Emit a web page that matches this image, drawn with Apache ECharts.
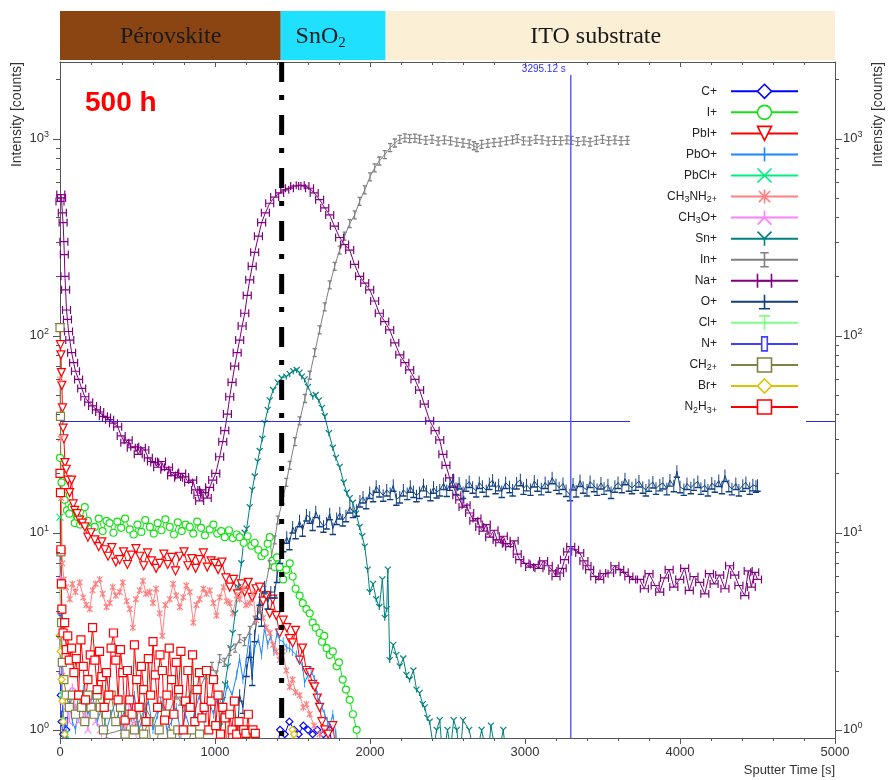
<!DOCTYPE html>
<html><head><meta charset="utf-8">
<script src="https://cdn.jsdelivr.net/npm/echarts@6/dist/echarts.min.js"></script>
<style>html,body{margin:0;padding:0;background:#fff}#c{width:889px;height:780px}</style>
</head><body><div id="c"></div>
<script>
// ---------------- data (time [s], intensity [counts]) ----------------
const C_PLUS = [[0,3],[5,1.5],[10,1.1],[20,0.95],[40,1.0],[60,0.6],[1380,0.6],[1420,1.0],[1450,0.95],[1480,1.1],[1510,1.0],[1540,0.95],[1570,1.05],[1600,1.0],[1630,0.95],[1660,1.0],[1700,0.95],[1740,1.0],[1780,0.6]];
const I_PLUS = [[0,24],[5,20],[10,18],[20,15.5],[30,14.7],[45,13],[60,12.5],[75,13.5],[95,11.2],[115,12],[130,11],[160,13.5],[180,11.5],[200,10.5],[224,10.7],[250,11.8],[275,10.2],[300,11.5],[320,11.2],[345,10.0],[370,11.4],[395,10.6],[420,11.8],[450,10.4],[475,9.8],[500,11.0],[525,10.1],[550,11.6],[580,10.7],[605,9.9],[630,11.2],[655,10.3],[680,11.7],[708,10.7],[735,9.8],[760,11.3],[785,10.2],[810,11.0],[837,10.7],[860,9.9],[885,11.4],[910,10.6],[935,9.7],[966,10.4],[990,11.0],[1015,9.9],[1040,10.2],[1063,9.5],[1090,10.3],[1115,9.4],[1140,9.8],[1159,9.5],[1185,8.9],[1210,9.6],[1235,8.6],[1256,8.9],[1280,8.2],[1300,7.6],[1320,7.9],[1340,8.8],[1353,9.5],[1370,7.2],[1385,6.7],[1400,7.5],[1417,6.7],[1440,5.8],[1460,6.5],[1482,7.0],[1501,6.0],[1520,5.2],[1546,4.8],[1566,4.4],[1590,4.1],[1611,3.9],[1630,3.5],[1650,3.3],[1675,3.1],[1690,2.8],[1705,3.0],[1720,2.6],[1740,2.4],[1760,2.5],[1785,2.1],[1800,2.2],[1824,1.8],[1845,1.6],[1869,1.42],[1890,1.2],[1914,1.0],[1930,0.6]];
const PBI_PLUS = [[0,110],[3,90],[6,80],[9,65],[12,56],[16,43],[20,34],[25,30],[32,22.7],[40,21],[50,18.5],[62,16],[75,18.5],[85,14],[95,13],[110,12.5],[127,11.6],[145,11.2],[160,10.7],[180,9.5],[200,10],[224,9.2],[250,8.5],[270,9.0],[289,8.2],[310,7.6],[335,8.4],[360,7.1],[385,7.3],[410,8.0],[435,6.9],[460,7.7],[490,8.3],[515,7.6],[540,6.8],[565,7.9],[590,7.2],[620,6.6],[644,7.0],[670,7.8],[695,6.9],[720,7.5],[745,6.4],[772,7.6],[800,8.0],[825,6.8],[850,7.4],[875,6.6],[901,7.3],[925,7.9],[950,6.7],[975,7.2],[998,7.0],[1020,6.5],[1045,7.1],[1070,5.9],[1095,5.3],[1120,5.8],[1145,4.9],[1170,5.5],[1191,5.0],[1215,5.6],[1240,4.7],[1265,5.2],[1288,5.3],[1310,4.5],[1330,4.8],[1353,3.9],[1372,4.6],[1395,3.8],[1417,3.1],[1440,3.6],[1463,3.3],[1480,2.9],[1501,2.76],[1520,3.2],[1546,2.26],[1565,2.6],[1590,2.0],[1611,1.95],[1630,1.7],[1643,1.65],[1660,1.45],[1675,1.3],[1690,1.1],[1708,1.0],[1730,0.95],[1760,1.05],[1790,0.7]];
const PBO_PLUS = [[0,8],[5,3],[10,1.6],[20,1.2],[40,1.0],[60,1.4],[80,1.1],[100,1.0],[120,1.3],[150,1.6],[180,1.2],[210,1.5],[240,1.1],[270,1.3],[300,1.0],[330,1.2],[360,1.4],[390,1.05],[420,1.3],[450,1.1],[480,1.5],[510,1.0],[540,1.2],[570,1.4],[600,1.0],[630,1.2],[660,1.35],[690,1.0],[720,1.1],[750,1.3],[780,0.95],[810,1.2],[840,1.0],[870,1.25],[900,1.5],[930,1.1],[960,1.4],[990,1.2],[1020,1.5],[1050,1.3],[1080,1.7],[1110,1.5],[1140,1.9],[1159,2.3],[1180,1.8],[1200,2.2],[1224,3.1],[1240,2.0],[1256,2.6],[1280,2.9],[1300,2.4],[1320,3.3],[1340,2.7],[1360,3.0],[1380,2.5],[1400,3.1],[1417,2.86],[1440,2.8],[1463,2.6],[1482,2.6],[1501,2.5],[1525,2.4],[1546,2.26],[1565,2.1],[1578,1.73],[1600,1.9],[1620,2.0],[1643,1.8],[1660,1.5],[1675,1.42],[1690,1.3],[1708,1.2],[1725,1.1],[1740,1.05],[1760,1.2],[1780,0.95],[1800,0.6]];
const PBCL_PLUS = [[0,12],[5,4],[10,2.2],[15,1.5],[25,1.1],[35,0.95],[45,0.7]];
const CH3NH2_PLUS = [[0,60],[4,30],[8,15],[15,7],[25,5.8],[40,5.3],[63,4.6],[80,5.5],[100,5.0],[127,5.6],[150,4.7],[170,4.3],[192,4.1],[210,5.1],[230,5.5],[256,5.8],[275,4.9],[300,4.2],[321,4.4],[340,5.3],[360,4.8],[385,5.0],[405,5.6],[430,4.5],[450,4.1],[470,3.3],[490,4.6],[514,5.1],[535,5.7],[555,4.9],[579,5.0],[600,4.4],[620,5.2],[643,3.9],[660,3.0],[680,4.3],[708,4.6],[730,5.5],[750,4.8],[773,4.2],[795,4.7],[815,5.4],[837,5.0],[860,3.5],[880,4.3],[901,4.6],[925,5.2],[945,4.9],[966,5.1],[990,4.4],[1010,3.8],[1030,4.7],[1055,5.3],[1075,4.5],[1095,4.4],[1115,3.9],[1140,4.8],[1159,4.6],[1180,5.2],[1200,4.3],[1224,4.4],[1245,4.9],[1265,3.6],[1288,4.1],[1310,3.7],[1330,3.3],[1353,3.1],[1375,2.7],[1395,2.5],[1417,2.26],[1437,2.5],[1460,2.0],[1482,1.65],[1500,1.8],[1520,1.55],[1546,1.5],[1570,1.3],[1590,1.35],[1611,1.2],[1640,1.05],[1675,0.95],[1700,0.6]];
const CH3O_PLUS = [[0,6],[5,3],[10,2],[20,1.4],[40,1.3],[60,1.1],[80,1.65],[100,1.3],[120,1.1],[140,1.5],[160,1.2],[180,1.0],[200,1.4],[230,1.1],[260,1.0],[300,0.7],[420,1.0],[450,1.4],[480,1.1],[510,0.7]];
const SN_PLUS = [[1030,1.04],[1050,1.42],[1065,1.7],[1082,2.1],[1100,2.6],[1114,3.1],[1130,3.9],[1149,5.3],[1170,7.0],[1191,10],[1204,10.5],[1224,13.5],[1240,16.5],[1256,19.3],[1275,23],[1288,26],[1305,30],[1320,36],[1340,42],[1353,47],[1375,53],[1405,58],[1430,61],[1460,62],[1482,64],[1505,66],[1527,67],[1545,65],[1560,62],[1578,60],[1600,55],[1631,49],[1650,50],[1670,47],[1690,43],[1708,39],[1735,32],[1760,27],[1780,24],[1804,21.6],[1830,18],[1850,16],[1869,15],[1889,14.2],[1910,12.5],[1933,10.7],[1950,9.6],[1966,8.5],[1985,6.5],[1998,5],[2020,5.5],[2040,4.6],[2060,4.2],[2080,5.8],[2095,3.7],[2108,4.1],[2115,6.5],[2127,2.26],[2150,2.7],[2170,2.4],[2192,2.1],[2215,2.3],[2235,1.9],[2256,1.8],[2280,2.0],[2300,1.6],[2320,1.54],[2340,1.35],[2353,1.3],[2370,1.15],[2385,1.1],[2410,0.8],[2430,1.0],[2450,1.12],[2470,0.7],[2500,1.0],[2520,0.8],[2540,1.12],[2560,1.0],[2580,0.7],[2600,1.12],[2640,1.0],[2680,0.7],[2720,1.0],[2760,0.7],[2780,1.05],[2820,0.7],[2860,1.0],[2880,0.7]];
const IN_PLUS = [[300,0.95],[400,1.0],[450,1.2],[500,1.05],[550,1.3],[600,1.1],[650,1.4],[700,1.2],[750,1.5],[775,1.4],[800,1.3],[850,1.6],[900,1.6],[940,1.9],[980,2.1],[1010,1.9],[1030,2.3],[1060,2.2],[1095,2.5],[1130,2.6],[1159,2.9],[1190,2.8],[1224,3.2],[1256,3.6],[1288,4.1],[1320,5.1],[1353,6.9],[1385,9.2],[1405,11.6],[1437,14.7],[1460,18],[1482,22],[1515,29],[1546,37],[1580,48],[1611,63],[1643,82],[1675,107],[1708,140],[1740,181],[1772,225],[1804,272],[1836,320],[1869,370],[1901,410],[1933,480],[1966,550],[2000,640],[2030,710],[2060,770],[2095,830],[2130,900],[2160,950],[2192,990],[2225,1010],[2256,1000],[2290,1005],[2320,995],[2360,980],[2400,990],[2440,970],[2480,985],[2520,975],[2560,960],[2600,950],[2640,940],[2670,920],[2690,900],[2720,935],[2760,945],[2800,955],[2840,960],[2880,975],[2920,985],[2950,1000],[2990,975],[3030,970],[3070,990],[3110,985],[3150,970],[3190,980],[3230,975],[3270,985],[3300,980],[3340,965],[3380,975],[3420,960],[3460,980],[3500,990],[3540,975],[3580,985],[3620,975],[3660,980],[3700,985],[3750,975],[3800,980],[3900,985],[4000,975],[4100,980],[4200,990],[4300,975],[4400,980],[4500,985]];
const NA_PLUS = [[0,480],[5,520],[10,500],[15,420],[20,375],[25,300],[28,258],[32,200],[36,171],[42,135],[48,121],[55,105],[63,95],[75,82],[88,73],[100,66],[120,60],[140,54],[160,49],[185,46],[210,44],[235,42],[256,41],[280,39],[300,38.5],[320,37.5],[345,36],[372,34.5],[395,31],[418,28.6],[440,29.5],[460,27],[482,27.3],[505,25],[525,27],[547,26.3],[570,24],[590,23],[611,22.7],[630,21.5],[655,23],[676,20.9],[700,21.5],[720,19.5],[740,20.2],[765,19],[785,20],[804,19.2],[830,18],[856,18.5],[875,16.5],[890,15.5],[901,14.5],[915,16.5],[933,16],[950,15],[965,17],[985,18.5],[1005,20],[1030,24.3],[1050,29],[1063,33],[1080,40],[1095,49],[1110,58],[1127,70],[1143,82],[1159,95],[1175,112],[1192,130],[1208,160],[1224,192],[1240,225],[1256,265],[1280,320],[1301,375],[1325,420],[1353,470],[1385,505],[1417,530],[1450,550],[1480,560],[1514,575],[1550,580],[1580,575],[1610,560],[1640,530],[1675,490],[1708,445],[1740,410],[1770,360],[1804,315],[1836,290],[1869,272],[1900,230],[1933,200],[1966,185],[1998,171],[2030,150],[2060,130],[2095,118],[2127,107],[2160,92],[2192,80],[2225,73],[2256,67],[2290,60],[2320,53],[2350,45],[2385,37],[2420,33],[2450,29.6],[2470,25],[2490,22],[2514,19],[2540,17],[2560,15.5],[2579,14.7],[2600,13.5],[2620,13.8],[2643,12.6],[2670,11.5],[2690,11.8],[2708,10.7],[2730,10.2],[2750,11],[2772,9.5],[2800,10.3],[2820,9.2],[2837,8.9],[2860,9.6],[2880,8.8],[2901,8.5],[2930,9.1],[2950,7.8],[2966,7.3],[3000,7.0],[3030,6.7],[3060,6.9],[3090,6.6],[3120,7.2],[3150,6.8],[3180,6.4],[3200,6.0],[3223,6.25],[3240,6.6],[3255,7.3],[3275,8.0],[3295,8.5],[3320,8.2],[3353,7.9],[3380,7.2],[3400,6.8],[3417,6.5],[3450,6.0],[3482,5.8],[3510,6.2],[3546,6.25],[3580,6.8],[3611,6.5],[3640,6.3],[3670,6.0],[3700,5.8],[3740,5.8],[3770,5.2],[3800,6.2],[3840,5.4],[3869,5.0],[3900,5.9],[3930,6.5],[3960,5.3],[3998,5.8],[4030,6.6],[4060,5.1],[4090,6.0],[4127,5.6],[4160,4.9],[4190,6.2],[4220,5.5],[4256,6.1],[4290,5.2],[4320,6.8],[4353,6.1],[4380,5.4],[4418,4.8],[4440,6.4],[4460,5.3],[4482,6.3],[4500,5.8]];
const O_PLUS = [[1140,0.8],[1159,1.5],[1180,1.3],[1204,2.0],[1224,2.5],[1240,1.8],[1256,3.0],[1275,3.9],[1288,4.6],[1300,3.6],[1320,5.3],[1340,4.4],[1360,5.0],[1385,5.0],[1400,6.0],[1420,7.5],[1440,8.6],[1463,9.5],[1480,8.8],[1501,10.7],[1520,10.0],[1545,11.5],[1565,10.3],[1590,12.3],[1611,12],[1630,11],[1650,12.8],[1675,11.5],[1700,10.8],[1720,11.2],[1740,12.5],[1760,10.5],[1785,11.8],[1805,12.6],[1824,11.6],[1845,12.2],[1870,13.5],[1890,12.8],[1914,13],[1935,14.5],[1955,15.2],[1975,14.2],[1998,16],[2020,15.4],[2040,17.2],[2060,16.3],[2085,15.5],[2108,16.5],[2130,15.8],[2150,17.4],[2170,14.8],[2192,15.2],[2215,16.5],[2240,15.8],[2260,17.2],[2280,16.2],[2300,15.4],[2320,16],[2345,17.5],[2365,16.3],[2390,15.6],[2410,17.0],[2430,16.1],[2450,16.5],[2475,17.8],[2495,16.4],[2515,17.6],[2533,18.5],[2555,16.8],[2575,17.9],[2600,16.0],[2620,17.4],[2640,18.2],[2662,17],[2685,16.3],[2705,18.0],[2725,17.2],[2750,16.4],[2770,17.8],[2791,18.5],[2810,16.9],[2830,17.5],[2850,16.2],[2875,18.0],[2900,17.1],[2920,16.5],[2946,17.9],[2970,18.6],[2990,16.8],[3010,17.5],[3035,16.6],[3060,18.3],[3080,17.4],[3105,16.7],[3130,18.0],[3150,17.2],[3175,19.0],[3200,17.6],[3220,16.9],[3245,17.8],[3265,16.4],[3290,15.6],[3310,17.7],[3330,16.3],[3355,18.4],[3375,17.0],[3400,16.5],[3420,18.2],[3445,17.3],[3465,16.6],[3490,17.9],[3510,16.8],[3535,17.5],[3555,16.0],[3580,17.2],[3600,18.0],[3625,17.1],[3645,18.8],[3670,17.4],[3690,16.9],[3715,17.6],[3735,18.3],[3760,17.0],[3780,16.5],[3800,17.4],[3825,18.1],[3845,16.8],[3870,17.5],[3890,17.9],[3915,16.7],[3935,18.5],[3960,17.3],[3980,20.5],[4000,17.1],[4025,16.6],[4045,17.8],[4070,16.9],[4090,17.6],[4115,18.2],[4135,16.8],[4160,17.4],[4180,16.5],[4205,17.9],[4225,17.2],[4250,18.4],[4270,16.9],[4290,19.5],[4315,17.3],[4335,16.7],[4360,17.8],[4380,16.5],[4405,17.4],[4425,18.0],[4450,16.8],[4470,17.5],[4490,17.2],[4500,17.4]];
const CL_PLUS = [[0,5],[5,2.5],[10,1.5],[20,1.1],[30,0.8]];
const N_PLUS = [[0,4],[5,2],[10,1.3],[20,1.05],[30,0.95],[40,1.1],[50,0.7]];
const CH2_PLUS = [[0,110],[3,39],[6,8],[10,3.5],[15,2.2],[25,1.8],[40,1.5],[60,1.3],[80,1.5],[100,1.2],[120,1.5],[140,1.3],[160,1.1],[180,1.5],[200,1.3],[220,1.2],[240,1.5],[260,1.3],[280,1.0],[300,1.2],[330,1.5],[360,1.1],[390,1.3],[420,0.95],[450,1.2],[480,1.0],[510,1.3],[540,0.95],[570,1.1],[600,0.7],[640,1.0],[680,1.2],[720,0.95],[760,1.0],[800,0.7],[850,1.0],[900,0.95],[950,0.6]];
const BR_PLUS = [[0,3],[5,2.5],[10,1.8],[15,1.4],[20,1.1],[30,0.95],[40,0.6],[1220,0.6],[1230,1.0],[1240,0.6],[1490,0.6],[1500,1.0],[1510,0.95],[1520,0.6]];
const N2H3_PLUS = [[0,20],[3,16],[6,8.2],[9,5.5],[12,4.1],[20,3.1],[30,3.5],[40,2.55],[50,3.0],[60,2.26],[75,2.6],[90,1.95],[105,2.3],[120,1.5],[135,2.86],[150,2.1],[165,1.42],[180,1.8],[195,2.4],[210,3.3],[225,2.26],[240,1.6],[255,2.5],[270,1.86],[285,1.3],[300,1.95],[315,1.5],[330,2.6],[345,3.1],[360,2.26],[375,1.42],[390,2.55],[405,1.95],[420,1.12],[435,2.0],[450,1.42],[465,1.2],[480,2.7],[495,1.8],[510,1.3],[525,2.1],[540,1.6],[555,1.1],[570,2.3],[585,1.5],[600,2.8],[615,1.9],[630,1.3],[645,2.4],[660,2.0],[675,1.12],[690,1.5],[705,2.6],[720,1.8],[735,1.2],[750,2.2],[765,1.6],[780,2.5],[795,1.0],[810,1.4],[825,2.0],[840,1.3],[855,2.4],[870,1.1],[885,1.6],[900,1.95],[915,1.15],[930,1.3],[945,2.0],[960,1.0],[975,1.4],[990,1.8],[1005,1.05],[1020,1.5],[1035,0.95],[1050,1.3],[1065,1.15],[1080,0.7],[1095,1.2],[1110,1.0],[1125,1.4],[1140,0.95],[1155,1.1],[1170,0.7],[1185,1.0],[1200,0.96],[1215,1.2],[1230,0.7],[1245,1.0],[1260,0.96],[1275,0.6]];

const SERIES_NAMES = ['C+','I+','PbI+','PbO+','PbCl+','CH3NH2+','CH3O+','Sn+','In+','Na+','O+','Cl+','N+','CH2+','Br+','N2H3+'];
const SERIES_DATA = [C_PLUS,I_PLUS,PBI_PLUS,PBO_PLUS,PBCL_PLUS,CH3NH2_PLUS,CH3O_PLUS,SN_PLUS,IN_PLUS,NA_PLUS,O_PLUS,CL_PLUS,N_PLUS,CH2_PLUS,BR_PLUS,N2H3_PLUS];

const X_TICKS = [0,1000,2000,3000,4000,5000];
const LAYER_NAMES = ['Pérovskite','SnO2','ITO substrate'];
const LAYER_BOUNDS = [0,1424,2101,5000];
const LAYER_LABEL_T = [714,1682,3456];
const INTERFACE_T = 1430;
const CURSOR_T = 3295.12;
const REF_LEVEL = 36.8;

// ---------------- styles ----------------
const Y_MIN = 0.909, Y_MAX = 2448;
const FONT = 'Liberation Sans';
const SYM = {
  diamond: 'path://M5 0 L10 5 L5 10 L0 5 Z',
  tri: 'path://M0 0 L10 0 L5 10 Z',
  bar: 'path://M0 0 M10 10 M5 0 L5 10',
  x: 'path://M0 0 L10 10 M10 0 L0 10',
  star: 'path://M1 1 L9 9 M9 1 L1 9 M5 0 L5 10 M0 0 M10 10',
  invY: 'path://M5 0 L5 5 L0 10 M5 5 L10 10',
  y: 'path://M0 0 L5 5 L10 0 M5 5 L5 10',
  ibeam: 'path://M2 0 L8 0 M5 0 L5 10 M2 10 L8 10 M0 0 M10 10',
  hh: 'path://M0 0 L0 10 M10 0 L10 10 M0 5 L10 5',
  tup: 'path://M5 0 L5 10 M1 10 L9 10 M0 0 M10 10',
  tee: 'path://M1 0 L9 0 M5 0 L5 10 M0 0 M10 10',
  slim: 'path://M3 0 L7 0 L7 10 L3 10 Z M0 0 M10 10',
  sq: 'path://M0 0 L10 0 L10 10 L0 10 Z'
};
const STYLES = [
  {c:'#0000ff', s:SYM.diamond, z:7, f:'#fff'},
  {c:'#14e014', s:'circle', z:7, f:'#fff'},
  {c:'#ff0000', s:SYM.tri, z:8, f:'#fff'},
  {c:'#1a86ff', s:SYM.bar, z:[4,9], f:'none'},
  {c:'#00f080', s:SYM.x, z:7, f:'none'},
  {c:'#ff8080', s:SYM.star, z:7, f:'none'},
  {c:'#ff80ff', s:SYM.invY, z:7, f:'none'},
  {c:'#008080', s:SYM.y, z:6, f:'none'},
  {c:'#808080', s:SYM.ibeam, z:[7,8], f:'none'},
  {c:'#800080', s:SYM.hh, z:[8,8], f:'none'},
  {c:'#103f80', s:SYM.tup, z:[8,12], f:'none'},
  {c:'#80ff80', s:SYM.tee, z:7, f:'none'},
  {c:'#4040ff', s:SYM.slim, z:[5,8], f:'#fff'},
  {c:'#808040', s:SYM.sq, z:8, f:'#fff'},
  {c:'#e0c000', s:SYM.diamond, z:7, f:'#fff'},
  {c:'#ff0000', s:SYM.sq, z:8, f:'#fff'}
];
const LAYER_COLORS = ['#8b4513','#1fe0ff','#fbefd5'];
const LAYER_RICH = ['{a|Pérovskite}','{a|SnO}{b|2}','{a|ITO substrate}'];

function isPow10(v){ const e = Math.log10(v); return Math.abs(e - Math.round(e)) < 1e-6; }
function powLabel(v){ if (!isPow10(v)) return ''; return '{b|10}{s|' + Math.round(Math.log10(v)) + '}'; }
const POW_RICH = {
  b: {fontSize: 13, fontFamily: FONT, color: '#333', lineHeight: 17},
  s: {fontSize: 9, fontFamily: FONT, color: '#333', lineHeight: 10, verticalAlign: 'top'}
};
function legendFmt(name){
  let out = '';
  for (let i = 0; i < name.length; i++) {
    const ch = name[i];
    const prevDigit = i > 0 && /[0-9]/.test(name[i-1]);
    if (/[0-9]/.test(ch) || (ch === '+' && prevDigit)) out += '{s|' + ch + '}';
    else out += '{n|' + ch + '}';
  }
  return out;
}

function renderOverlay(params, api){
  const cs = params.coordSys;
  const L = cs.x, T = cs.y, R = cs.x + cs.width, B = cs.y + cs.height;
  const px = t => api.coord([t, 1])[0];
  const py = v => api.coord([0, v])[1];
  const ch = [];
  for (let i = 0; i < LAYER_NAMES.length; i++) {
    const x0 = px(LAYER_BOUNDS[i]), x1 = px(LAYER_BOUNDS[i+1]);
    ch.push({type:'rect', shape:{x:x0, y:T-51, width:x1-x0, height:49}, style:{fill:LAYER_COLORS[i]}});
    ch.push({type:'text', x:px(LAYER_LABEL_T[i]), y:T-25, style:{text:LAYER_RICH[i], align:'center', verticalAlign:'middle',
      rich:{a:{fontFamily:'Liberation Serif', fontSize:24, fill:'#1a1a1a', color:'#1a1a1a', lineHeight:28},
            b:{fontFamily:'Liberation Serif', fontSize:15, fill:'#1a1a1a', color:'#1a1a1a', lineHeight:10, verticalAlign:'bottom'}}}});
  }
  for (let k = 0; k <= 3; k++) for (let m = 1; m <= 9; m++) {
    const v = m * Math.pow(10, k);
    if (v < Y_MIN || v > Y_MAX) continue;
    const y = Math.round(py(v)) + 0.5, len = m === 1 ? 7 : 4;
    ch.push({type:'line', shape:{x1:L-len, y1:y, x2:L, y2:y}, style:{stroke:'#555', lineWidth:1}});
    ch.push({type:'line', shape:{x1:R, y1:y, x2:R+len, y2:y}, style:{stroke:'#555', lineWidth:1}});
  }
  const yr = Math.round(py(REF_LEVEL)) + 0.5;
  ch.push({type:'line', shape:{x1:L, y1:yr, x2:R, y2:yr}, style:{stroke:'#2a2ad8', lineWidth:1.2}});
  const xc = px(CURSOR_T);
  ch.push({type:'line', shape:{x1:xc, y1:T+13, x2:xc, y2:B}, style:{stroke:'#6060ff', lineWidth:1.5}});
  ch.push({type:'text', x:xc-5, y:T+7, style:{text: CURSOR_T.toFixed(2) + ' s', align:'right', verticalAlign:'middle', fontFamily:FONT, fontSize:10, fill:'#3030ff'}});
  const xd = px(INTERFACE_T);
  ch.push({type:'line', shape:{x1:xd, y1:T, x2:xd, y2:B}, style:{stroke:'#000', lineWidth:5, lineDash:[20,13,5,15]}});
  return {type:'group', children:ch};
}

const series = SERIES_NAMES.map((n, i) => ({
  type:'line', name:n, data:SERIES_DATA[i], xAxisIndex:0, yAxisIndex:0,
  symbol:STYLES[i].s, symbolSize:STYLES[i].z, showAllSymbol:true,
  lineStyle:{color:STYLES[i].c, width:1},
  itemStyle:{color:STYLES[i].f === 'none' ? 'rgba(255,255,255,0)' : STYLES[i].f, borderColor:STYLES[i].c, borderWidth:1.2},
  emphasis:{disabled:true}, silent:true, animation:false, z:2, clip:true
}));
series.push({type:'custom', name:'overlay', coordinateSystem:'cartesian2d', xAxisIndex:0, yAxisIndex:0,
  data:[[0,1]], renderItem:renderOverlay, silent:true, z:3, clip:false, animation:false});

const axisLineStyle = {color:'#555', width:1};
const option = {
  animation:false,
  backgroundColor:'#fff',
  grid:{left:60, right:54, top:62, bottom:42, containLabel:false, outerBoundsMode:'none'},
  xAxis:[
    {type:'value', min:X_TICKS[0], max:X_TICKS[X_TICKS.length-1], interval:1000, position:'bottom',
     axisLine:{show:true, onZero:false, lineStyle:axisLineStyle},
     axisTick:{show:true, length:6, lineStyle:axisLineStyle},
     minorTick:{show:true, splitNumber:5, length:3, lineStyle:axisLineStyle},
     splitLine:{show:false}, minorSplitLine:{show:false},
     axisLabel:{color:'#333', fontSize:13, fontFamily:FONT, margin:8, formatter:v => String(v)}},
    {type:'value', min:X_TICKS[0], max:X_TICKS[X_TICKS.length-1], interval:1000, position:'top',
     axisLine:{show:true, onZero:false, lineStyle:axisLineStyle},
     axisTick:{show:true, inside:true, length:5, lineStyle:axisLineStyle},
     minorTick:{show:true, splitNumber:5, length:3, lineStyle:axisLineStyle},
     splitLine:{show:false}, axisLabel:{show:false}}
  ],
  yAxis:[
    {type:'log', logBase:10, min:Y_MIN, max:Y_MAX, position:'left',
     axisLine:{show:true, onZero:false, lineStyle:axisLineStyle}, axisTick:{show:false},
     splitLine:{show:false}, minorTick:{show:false},
     axisLabel:{formatter:powLabel, rich:POW_RICH, margin:11, showMinLabel:false, showMaxLabel:false}},
    {type:'log', logBase:10, min:Y_MIN, max:Y_MAX, position:'right',
     axisLine:{show:true, onZero:false, lineStyle:axisLineStyle}, axisTick:{show:false},
     splitLine:{show:false}, minorTick:{show:false},
     axisLabel:{formatter:powLabel, rich:POW_RICH, margin:8, showMinLabel:false, showMaxLabel:false}}
  ],
  legend:{
    data:SERIES_NAMES, orient:'vertical', right:83, top:71.5, align:'right',
    itemWidth:67, itemHeight:17.5, itemGap:5.45,
    padding:[12,7,12,37], backgroundColor:'#fff', selectedMode:false, z:10,
    formatter:legendFmt,
    textStyle:{fontFamily:FONT, fontSize:12, color:'#222', padding:[0,9,0,0],
      rich:{n:{fontFamily:FONT, fontSize:12, color:'#222', lineHeight:15},
            s:{fontFamily:FONT, fontSize:9, color:'#222', lineHeight:9, verticalAlign:'bottom'}}},
    lineStyle:{width:2}, itemStyle:{borderWidth:1.6}
  },
  graphic:[
    {type:'text', left:85, top:89, style:{text:'500 h', font:'bold 28px "Liberation Sans"', fill:'#ff0000'}},
    {type:'text', x:17, y:62, rotation:Math.PI/2, style:{text:'Intensity [counts]', align:'right', verticalAlign:'middle', font:'14px "Liberation Sans"', fill:'#333'}},
    {type:'text', x:878, y:62, rotation:Math.PI/2, style:{text:'Intensity [counts]', align:'right', verticalAlign:'middle', font:'14px "Liberation Sans"', fill:'#333'}},
    {type:'text', x:835, y:770, style:{text:'Sputter Time [s]', align:'right', verticalAlign:'middle', font:'13px "Liberation Sans"', fill:'#333'}}
  ],
  series:series
};
const chart = echarts.init(document.getElementById('c'), null, {renderer:'canvas'});
chart.setOption(option);
</script></body></html>
